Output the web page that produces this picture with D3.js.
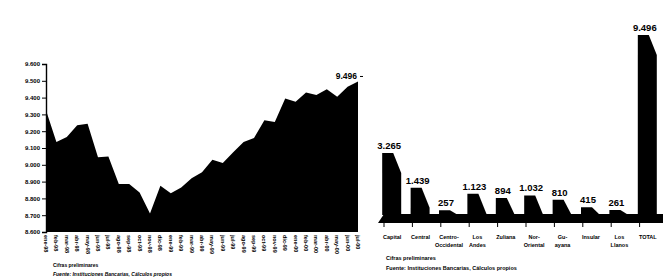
<!DOCTYPE html>
<html>
<head>
  <style>
    body{
      margin:0;
      background:#fff;
    }
    svg{
      display:block;
      font-family:"Liberation Sans", Arial, sans-serif;
      font-weight:bold;
    }
    .small{
      font-size:6px;
      fill:#000;
    }
  </style>
  <script src="https://d3js.org/d3.v7.min.js"></script>
</head>
<body>
<div class="vizualisation-container"></div>
<script>
// left chart: monthly series
const months = ['ene-98','feb-98','mar-98','abr-98','may-98','jun-98','jul-98','ago-98','sep-98','oct-98','nov-98','dic-98',
  'ene-99','feb-99','mar-99','abr-99','may-99','jun-99','jul-99','ago-99','sep-99','oct-99','nov-99','dic-99',
  'ene-00','feb-00','mar-00','abr-00','may-00','jun-00','jul-00'];
const totals = [9325, 9135, 9165, 9235, 9245, 9045, 9050, 8885, 8885, 8835, 8710, 8875, 8830, 8865, 8920, 8955,
  9030, 9010, 9075, 9135, 9160, 9265, 9255, 9395, 9375, 9430, 9415, 9450, 9405, 9465, 9496];
const yTicks = [8600, 8700, 8800, 8900, 9000, 9100, 9200, 9300, 9400, 9500, 9600];

// right chart: by region
const regions = [['Capital'], ['Central'], ['Centro-','Occidental'], ['Los','Andes'], ['Zuliana'],
  ['Nor-','Oriental'], ['Gu-','ayana'], ['Insular'], ['Los','Llanos'], ['TOTAL']];
const regionValues = [3265, 1439, 257, 1123, 894, 1032, 810, 415, 261, 9496];

const notes = ['Cifras preliminares', 'Fuente: Instituciones Bancarias, Cálculos propios'];

window.onload = ()=>{
  const width = 664;
  const height = 278;
  const fmt = d3.formatLocale({decimal:',', thousands:'.', grouping:[3], currency:['','']}).format(',');

  const svg = d3.select('.vizualisation-container')
    .append('svg')
    .attr('width', width)
    .attr('height', height);

  // ---- left: area chart
  const x = d3.scalePoint().domain(months).range([46, 358]);
  const y = d3.scaleLinear().domain([8600, 9600]).range([232, 64]);

  const area = d3.area()
    .x((d,i)=>x(months[i]))
    .y0(y(8600))
    .y1(d=>y(d));

  svg.append('path')
    .datum(totals)
    .attr('d', area)
    .attr('fill', '#000');

  const yAxis = svg.append('g')
    .attr('transform', 'translate(46,0)')
    .call(d3.axisLeft(y).tickValues(yTicks).tickFormat(fmt).tickSize(4).tickPadding(2));
  yAxis.select('.domain').attr('stroke-width', 1.4);
  yAxis.selectAll('text').attr('class', 'small').attr('font-family', null).attr('font-size', null);

  svg.append('g')
    .selectAll('text')
    .data(months)
    .join('text')
    .attr('class', 'small')
    .attr('transform', d=>`translate(${x(d)},235) rotate(90)`)
    .attr('dy', '0.35em')
    .style('font-size', '5.5px')
    .text(d=>d);

  svg.append('text')
    .attr('x', x(months[months.length-1]) - 1)
    .attr('y', y(totals[totals.length-1]) - 2)
    .attr('text-anchor', 'end')
    .style('font-size', '8.5px')
    .text(fmt(totals[totals.length-1]));
  svg.append('line')
    .attr('x1', 360).attr('x2', 363)
    .attr('y1', y(totals[totals.length-1]) - 5).attr('y2', y(totals[totals.length-1]) - 5)
    .attr('stroke', '#000');

  svg.append('g')
    .selectAll('text')
    .data(notes)
    .join('text')
    .attr('class', 'small')
    .attr('x', 53)
    .attr('y', (d,i)=>267 + i*9)
    .style('font-size', '5px')
    .style('font-style', (d,i)=>i ? 'italic' : null)
    .text(d=>d);

  // ---- right: 3d-ish bars
  const names = regions.map(r=>r.join(' '));
  const xb = d3.scaleBand().domain(names).range([378, 662]);
  const yb = d3.scaleLinear().domain([0, d3.max(regionValues)]).range([215, 35]);
  const base = yb(0);
  const cx = n=>xb(n) + xb.bandwidth()/2;

  // floor
  svg.append('path')
    .attr('d', `M${xb.range()[0]},${base+8}L${xb.range()[0]+6},${base-1}L${xb.range()[1]+1},${base-1}L${xb.range()[1]+1},${base+8}Z`)
    .attr('fill', '#000');

  svg.append('g')
    .selectAll('line')
    .data(names)
    .join('line')
    .attr('x1', d=>xb(d) + 6).attr('x2', d=>xb(d) + 6)
    .attr('y1', base + 8).attr('y2', base + 12)
    .attr('stroke', '#000');

  svg.append('g')
    .selectAll('path')
    .data(regionValues)
    .join('path')
    .attr('fill', '#000')
    .attr('d', (d,i)=>{
      const c = cx(names[i]);
      const t = yb(d);
      const pts = [[c-10, base], [c-10, t], [c+1, t], [c+9, Math.min(t+20, base)], [c+9, base]];
      return d3.line()(pts) + 'Z';
    });

  svg.append('g')
    .selectAll('text')
    .data(regionValues)
    .join('text')
    .attr('x', (d,i)=>cx(names[i]) - 3)
    .attr('y', d=>yb(d) - 4)
    .attr('text-anchor', 'middle')
    .style('font-size', '9.5px')
    .text(d=>fmt(d));

  const cats = svg.append('g')
    .selectAll('text')
    .data(regions)
    .join('text')
    .attr('class', 'small')
    .attr('text-anchor', 'middle')
    .style('font-size', '5.5px');
  cats.selectAll('tspan')
    .data((d,i)=>d.map(s=>({s, c:cx(names[i])})))
    .join('tspan')
    .attr('x', d=>d.c)
    .attr('y', (d,j)=>239 + j*8)
    .text(d=>d.s);

  svg.append('g')
    .selectAll('text')
    .data(notes)
    .join('text')
    .attr('class', 'small')
    .attr('x', 386)
    .attr('y', (d,i)=>260 + i*10)
    .style('font-size', '5.5px')
    .text(d=>d);
}
</script>
</body>
</html>
